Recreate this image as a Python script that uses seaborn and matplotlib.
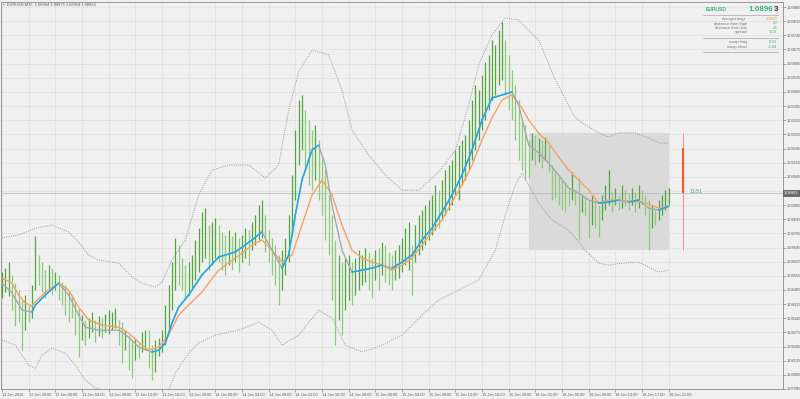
import numpy as np
import pandas as pd
import matplotlib
matplotlib.use("Agg")
import matplotlib.pyplot as plt
import seaborn as sns

# ---------------- data ----------------
title_text = "EURUSD,M15  1.08964 1.08975 1.08954 1.08963"
symbol = "EURUSD"
last_price = 1.08963
day_open = 1.09186
timer_text = "11:51"

bar_high = [1.08574, 1.08593, 1.08623, 1.08559, 1.08519, 1.08484, 1.08435, 1.08460, 1.08410, 1.08509,
            1.08752, 1.08658, 1.08623, 1.08583, 1.08608, 1.08593, 1.08574, 1.08559, 1.08524, 1.08509,
            1.08484, 1.08460, 1.08425, 1.08395, 1.08361, 1.08336, 1.08346, 1.08376, 1.08336, 1.08356,
            1.08346, 1.08366, 1.08385, 1.08376, 1.08395, 1.08336, 1.08326, 1.08286, 1.08262, 1.08237,
            1.08247, 1.08227, 1.08277, 1.08286, 1.08286, 1.08212, 1.08237, 1.08247, 1.08286, 1.08410,
            1.08509, 1.08623, 1.08742, 1.08707, 1.08643, 1.08608, 1.08623, 1.08658, 1.08732, 1.08791,
            1.08871, 1.08890, 1.08806, 1.08821, 1.08841, 1.08806, 1.08772, 1.08757, 1.08781, 1.08752,
            1.08772, 1.08742, 1.08757, 1.08791, 1.08781, 1.08821, 1.08856, 1.08905, 1.08930, 1.08856,
            1.08781, 1.08742, 1.08707, 1.08658, 1.08682, 1.08742, 1.08856, 1.09054, 1.09276, 1.09425,
            1.09450, 1.09375, 1.09326, 1.09276, 1.09301, 1.09227, 1.09153, 1.09078, 1.08955, 1.08856,
            1.08732, 1.08658, 1.08623, 1.08643, 1.08658, 1.08623, 1.08643, 1.08682, 1.08658, 1.08692,
            1.08673, 1.08643, 1.08682, 1.08692, 1.08722, 1.08707, 1.08673, 1.08658, 1.08682, 1.08707,
            1.08742, 1.08791, 1.08821, 1.08707, 1.08806, 1.08856, 1.08880, 1.08905, 1.08930, 1.08955,
            1.09004, 1.08979, 1.09029, 1.09078, 1.09103, 1.09128, 1.09177, 1.09202, 1.09227, 1.09252,
            1.09326, 1.09425, 1.09499, 1.09474, 1.09549, 1.09613, 1.09648, 1.09722, 1.09697, 1.09771,
            1.09811, 1.09722, 1.09648, 1.09573, 1.09499, 1.09425, 1.09326, 1.09301, 1.09227, 1.09262,
            1.09252, 1.09237, 1.09227, 1.09242, 1.09202, 1.09103, 1.09078, 1.09054, 1.09029, 1.09019,
            1.08989, 1.09069, 1.08979, 1.09039, 1.08955, 1.08940, 1.08930, 1.08955, 1.08930, 1.08905,
            1.08955, 1.09004, 1.09078, 1.08970, 1.08989, 1.08955, 1.09004, 1.08979, 1.08965, 1.08989,
            1.08970, 1.09004, 1.08979, 1.08955, 1.08930, 1.08905, 1.08880, 1.08930, 1.08955, 1.08979,
            1.08989]

bar_low = [1.08445, 1.08475, 1.08455, 1.08385, 1.08306, 1.08326, 1.08187, 1.08286, 1.08326, 1.08346,
           1.08484, 1.08509, 1.08475, 1.08445, 1.08484, 1.08460, 1.08484, 1.08435, 1.08410, 1.08361,
           1.08326, 1.08346, 1.08262, 1.08153, 1.08237, 1.08212, 1.08247, 1.08277, 1.08227, 1.08257,
           1.08247, 1.08277, 1.08267, 1.08286, 1.08296, 1.08212, 1.08123, 1.08187, 1.08088, 1.08049,
           1.08138, 1.08148, 1.08178, 1.08187, 1.08098, 1.08039, 1.08079, 1.08158, 1.08178, 1.08212,
           1.08286, 1.08385, 1.08484, 1.08509, 1.08484, 1.08435, 1.08460, 1.08484, 1.08534, 1.08574,
           1.08623, 1.08643, 1.08583, 1.08608, 1.08643, 1.08623, 1.08583, 1.08559, 1.08608, 1.08583,
           1.08623, 1.08574, 1.08623, 1.08643, 1.08608, 1.08682, 1.08707, 1.08732, 1.08742, 1.08673,
           1.08623, 1.08559, 1.08509, 1.08410, 1.08484, 1.08559, 1.08623, 1.08757, 1.08930, 1.09103,
           1.09177, 1.09078, 1.09004, 1.08979, 1.09029, 1.08930, 1.08856, 1.08732, 1.08658, 1.08435,
           1.08212, 1.08336, 1.08262, 1.08385, 1.08435, 1.08410, 1.08460, 1.08484, 1.08509, 1.08524,
           1.08484, 1.08445, 1.08534, 1.08484, 1.08559, 1.08524, 1.08509, 1.08484, 1.08534, 1.08544,
           1.08574, 1.08608, 1.08583, 1.08460, 1.08623, 1.08658, 1.08682, 1.08707, 1.08732, 1.08757,
           1.08781, 1.08791, 1.08831, 1.08856, 1.08880, 1.08905, 1.08955, 1.08930, 1.09004, 1.09029,
           1.09078, 1.09128, 1.09177, 1.09227, 1.09276, 1.09326, 1.09375, 1.09425, 1.09450, 1.09499,
           1.09524, 1.09450, 1.09375, 1.09326, 1.09227, 1.09128, 1.09078, 1.09029, 1.09039, 1.09128,
           1.09103, 1.09118, 1.09088, 1.09128, 1.09069, 1.08930, 1.08940, 1.08905, 1.08880, 1.08871,
           1.08900, 1.08930, 1.08905, 1.08732, 1.08871, 1.08856, 1.08742, 1.08806, 1.08791, 1.08747,
           1.08831, 1.08880, 1.08905, 1.08871, 1.08905, 1.08880, 1.08890, 1.08900, 1.08880, 1.08905,
           1.08871, 1.08890, 1.08905, 1.08856, 1.08682, 1.08791, 1.08806, 1.08831, 1.08856, 1.08880,
           1.08905]

slow_ma_bar = [0, 3, 5, 7, 9, 10, 13, 17, 20, 23, 26, 30, 35, 38, 41, 44, 47, 50, 53, 56,
               60, 65, 70, 75, 78, 81, 84, 87, 90, 93, 96, 99, 102, 105, 108, 111, 114, 117, 120, 123,
               126, 129, 132, 135, 138, 141, 144, 147, 150, 153, 156, 158, 161, 164, 167, 170, 173, 176, 179, 182,
               185, 188, 191, 194, 197, 200]
slow_ma = [1.08544, 1.08519, 1.08460, 1.08420, 1.08405, 1.08425, 1.08475, 1.08519, 1.08484, 1.08400,
           1.08336, 1.08311, 1.08301, 1.08272, 1.08227, 1.08187, 1.08202, 1.08262, 1.08361, 1.08410,
           1.08475, 1.08583, 1.08643, 1.08707, 1.08732, 1.08682, 1.08623, 1.08658, 1.08806, 1.08955,
           1.09029, 1.08955, 1.08806, 1.08682, 1.08643, 1.08623, 1.08608, 1.08583, 1.08608, 1.08643,
           1.08707, 1.08772, 1.08831, 1.08920, 1.09004, 1.09103, 1.09227, 1.09336, 1.09425, 1.09450,
           1.09385, 1.09326, 1.09262, 1.09212, 1.09143, 1.09078, 1.09029, 1.08979, 1.08915, 1.08930,
           1.08930, 1.08925, 1.08920, 1.08910, 1.08890, 1.08895]

fast_ma_bar = [0, 3, 6, 9, 10, 13, 17, 20, 23, 25, 29, 35, 38, 41, 45, 47, 49, 51, 53, 56,
               60, 65, 70, 75, 78, 81, 84, 86, 88, 90, 93, 95, 97, 99, 102, 105, 108, 111, 114, 117,
               120, 123, 126, 129, 132, 135, 138, 141, 144, 147, 150, 153, 155, 158, 161, 164, 167, 170, 173, 176,
               179, 182, 185, 188, 191, 194, 197, 200]
fast_ma = [1.08519, 1.08470, 1.08385, 1.08376, 1.08410, 1.08460, 1.08519, 1.08460, 1.08361, 1.08301,
           1.08286, 1.08286, 1.08252, 1.08202, 1.08178, 1.08187, 1.08222, 1.08321, 1.08400, 1.08460,
           1.08559, 1.08648, 1.08673, 1.08732, 1.08772, 1.08682, 1.08593, 1.08658, 1.08856, 1.09029,
           1.09177, 1.09202, 1.09103, 1.08905, 1.08682, 1.08574, 1.08583, 1.08593, 1.08608, 1.08593,
           1.08623, 1.08658, 1.08732, 1.08791, 1.08871, 1.08955, 1.09054, 1.09177, 1.09326, 1.09435,
           1.09450, 1.09465, 1.09400, 1.09202, 1.09163, 1.09113, 1.09054, 1.08989, 1.08965, 1.08930,
           1.08915, 1.08920, 1.08930, 1.08920, 1.08930, 1.08890, 1.08880, 1.08900]

upper_bb_bar = [0, 5, 10, 15, 20, 23, 26, 29, 35, 39, 42, 46, 48, 51, 55, 59, 63, 68, 74, 79,
                83, 86, 89, 93, 98, 102, 105, 110, 115, 120, 125, 131, 136, 140, 143, 147, 151, 155, 161, 166,
                172, 176, 179, 182, 185, 190, 194, 197, 200]
upper_bb = [1.08742, 1.08757, 1.08791, 1.08806, 1.08772, 1.08722, 1.08658, 1.08633, 1.08618, 1.08549,
            1.08519, 1.08499, 1.08524, 1.08633, 1.08732, 1.08955, 1.09078, 1.09103, 1.09103, 1.09039,
            1.09103, 1.09375, 1.09564, 1.09672, 1.09648, 1.09474, 1.09276, 1.09153, 1.09054, 1.08979,
            1.08979, 1.09069, 1.09177, 1.09400, 1.09598, 1.09747, 1.09831, 1.09821, 1.09722, 1.09524,
            1.09336, 1.09291, 1.09262, 1.09242, 1.09262, 1.09262, 1.09237, 1.09212, 1.09212]

lower_bb_bar = [0, 4, 8, 10, 12, 15, 19, 22, 25, 28, 32, 35, 40, 45, 50, 52, 56, 59, 64, 71,
                77, 81, 84, 89, 95, 99, 103, 108, 114, 120, 126, 131, 137, 143, 148, 151, 154, 156, 161, 165,
                170, 175, 179, 182, 186, 191, 194, 197, 200]
lower_bb = [1.08237, 1.08212, 1.08113, 1.08098, 1.08163, 1.08197, 1.08173, 1.08113, 1.08039, 1.07999,
            1.07989, 1.07989, 1.07950, 1.07940, 1.07989, 1.08074, 1.08173, 1.08222, 1.08262, 1.08286,
            1.08326, 1.08286, 1.08212, 1.08262, 1.08385, 1.08346, 1.08212, 1.08178, 1.08212, 1.08262,
            1.08361, 1.08435, 1.08484, 1.08534, 1.08682, 1.08856, 1.09004, 1.09064, 1.08915, 1.08831,
            1.08781, 1.08682, 1.08618, 1.08608, 1.08618, 1.08623, 1.08598, 1.08574, 1.08583]

x_labels = ["12 Jan 2016", "12 Jan 20:00", "13 Jan 00:00", "13 Jan 04:00", "13 Jan 08:00",
            "13 Jan 12:00", "13 Jan 16:00", "13 Jan 20:00", "14 Jan 00:00", "14 Jan 04:00",
            "14 Jan 08:00", "14 Jan 12:00", "14 Jan 16:00", "14 Jan 20:00", "15 Jan 00:00",
            "15 Jan 04:00", "15 Jan 08:00", "15 Jan 12:00", "15 Jan 16:00", "15 Jan 20:00",
            "18 Jan 01:00", "18 Jan 05:00", "18 Jan 09:00", "18 Jan 13:00", "18 Jan 17:00",
            "18 Jan 21:00"]
y_labels = ["1.07995", "1.08065", "1.08135", "1.08205", "1.08275", "1.08345", "1.08415",
            "1.08485", "1.08555", "1.08625", "1.08695", "1.08765", "1.08835", "1.08905",
            "1.08975", "1.09045", "1.09115", "1.09185", "1.09255", "1.09325", "1.09395",
            "1.09465", "1.09535", "1.09605", "1.09675", "1.09745", "1.09815", "1.09885"]

panel_labels = ["change/range", "distance from high", "distance from low", "spread"]
panel_values = ["-23/59", "30", "28", "1.50"]
swap_labels = ["swap long", "swap short"]
swap_values = ["0.33", "-1.04"]

range_start_bar = 158

# ---------------- style ----------------
BG = "#f0f0f0"
GREEN_UP = "#52a53f"
GREEN_DN = "#8ccb7c"
ORANGE = "#f5a262"
GRAY_MA = "#a9a9a9"
BLUE = "#1aa9f0"
BB = "#9a9a9a"
TXT = "#5a5a5a"
GREEN_TXT = "#3cb46e"

sns.set_theme(style="white", rc={"axes.facecolor": BG, "figure.facecolor": BG})
plt.rcParams["font.family"] = ["Liberation Sans", "DejaVu Sans"]

W, H = 800, 399
fig = plt.figure(figsize=(W / 100, H / 100), dpi=100)
top_px, bot_px, left_px, right_px = 2, 389.4, 1, 783
ax = fig.add_axes([left_px / W, 1 - bot_px / H, (right_px - left_px) / W, (bot_px - top_px) / H])
ax.set_facecolor(BG)

n = len(bar_high)
idx = np.arange(n)
ax.set_xlim(-0.3, 234.3)
ax.set_ylim(1.07993, 1.09910)

# grid
ax.grid(True, color="#d0d0d0", linestyle=(0, (1.5, 1.5)), linewidth=0.5, zorder=0)
ax.set_axisbelow(True)

# range box
hi_arr = np.array(bar_high)
lo_arr = np.array(bar_low)
box_top = hi_arr[range_start_bar:].max()
box_bot = lo_arr[range_start_bar:].min()
ax.add_patch(plt.Rectangle((range_start_bar, box_bot), n - 1 - range_start_bar + 0.2,
                           box_top - box_bot, facecolor="#dadada", edgecolor="none", zorder=1))

# current price line
ax.axhline(last_price, color="#b4b4b4", linewidth=0.5, zorder=1.5)

# bollinger bands
sns.lineplot(x=upper_bb_bar, y=upper_bb, ax=ax, color=BB, linestyle=(0, (1, 1.3)), linewidth=0.7, zorder=2)
sns.lineplot(x=lower_bb_bar, y=lower_bb, ax=ax, color=BB, linestyle=(0, (1, 1.3)), linewidth=0.7, zorder=2)

# price bars (shade by direction of the bar midpoint)
mid = (hi_arr + lo_arr) / 2
up = np.concatenate([[True], np.diff(mid) >= 0])
ax.vlines(idx[up], lo_arr[up], hi_arr[up], color=GREEN_UP, linewidth=0.9, zorder=3)
ax.vlines(idx[~up], lo_arr[~up], hi_arr[~up], color=GREEN_DN, linewidth=0.9, zorder=3)

# moving averages
sns.lineplot(x=slow_ma_bar, y=slow_ma, ax=ax, color=ORANGE, linewidth=1.0, zorder=4)
sns.lineplot(x=fast_ma_bar, y=fast_ma, ax=ax, color=GRAY_MA, linewidth=1.0, zorder=4)
fx = np.array(fast_ma_bar)
fy = np.array(fast_ma)
for k in range(len(fy) - 1):
    if fy[k + 1] > fy[k]:
        ax.plot(fx[k:k + 2], fy[k:k + 2], color=BLUE, linewidth=1.1, zorder=5,
                solid_capstyle="round")

# range indicator (vertical line)
rx = n + 3.2
ax.vlines(rx, box_bot, box_top, color="#f28a96", linewidth=0.7, zorder=5)
ax.vlines(rx, last_price, day_open, color="#ff5a22", linewidth=1.5, zorder=6)
ax.text(rx + 2, last_price + 0.00008, timer_text, fontsize=3.8, color=GREEN_TXT,
        ha="left", va="center", zorder=7)

# axes
for s in ax.spines.values():
    s.set_color("#8c8c8c")
    s.set_linewidth(0.6)

ytick_vals = [float(v) for v in y_labels]
ax.yaxis.tick_right()
ax.set_yticks(ytick_vals)
ax.set_yticklabels([("" if v == "1.08975" else v) for v in y_labels])
ax.tick_params(axis="y", right=True, left=False, length=1.8, width=0.5, color="#8c8c8c",
               pad=1.2, labelsize=2.9, labelcolor=TXT)
ax.set_xticks(np.arange(0, 8 * len(x_labels), 8))
ax.set_xticklabels(x_labels, ha="left")
ax.tick_params(axis="x", bottom=True, length=1.8, width=0.5, color="#8c8c8c",
               pad=1.0, labelsize=2.8, labelcolor=TXT)
ax.set_xlabel("")
ax.set_ylabel("")

# current price tag on the axis
ax.text(1.0015, last_price, f"{last_price:.5f}", transform=ax.get_yaxis_transform(),
        fontsize=2.9, color="white", ha="left", va="center", zorder=10, clip_on=False,
        bbox=dict(boxstyle="square,pad=0.35", facecolor="#6c6c6c", edgecolor="none"))

# title top-left
fig.text(2.5 / W, 1 - 4.5 / H, "\u25aa", fontsize=3.5, color="#777777", ha="left", va="center")
fig.text(7 / W, 1 - 4.5 / H, title_text, fontsize=2.9, color=TXT, ha="left", va="center")

# info panel
def ft(xp, yp, s, **kw):
    fig.text(xp / W, 1 - yp / H, s, va="center", **kw)

ft(706, 9.3, symbol, fontsize=3.6, color=GREEN_TXT, ha="left", fontweight="bold")
ft(773, 9.6, f"{last_price:.5f}"[:-1], fontsize=5.8, color=GREEN_TXT, ha="right", fontweight="bold")
ft(778, 9.6, f"{last_price:.5f}"[-1], fontsize=5.8, color="#333333", ha="right", fontweight="bold")

for yp in (15, 38.3, 51.7):
    fig.add_artist(plt.Line2D([703 / W, 778 / W], [1 - yp / H, 1 - yp / H],
                              color="#a8a8a8", linewidth=0.5, transform=fig.transFigure))

row_y = [19.2, 23.5, 27.9, 32.4]
for lab, val, yp in zip(panel_labels, panel_values, row_y):
    ft(747, yp, lab, fontsize=3.0, color="#777777", ha="right")
    col = "#f59a2a" if val.startswith("-") and "/" in val else GREEN_TXT
    ft(777, yp, val, fontsize=3.0, color=col, ha="right")
for lab, val, yp in zip(swap_labels, swap_values, [42.0, 46.7]):
    ft(747, yp, lab, fontsize=3.0, color="#777777", ha="right")
    ft(777, yp, val, fontsize=3.0, color=GREEN_TXT, ha="right")

leg = ax.get_legend()
if leg is not None:
    leg.remove()

fig.savefig("out.png", dpi=100, facecolor=BG)
